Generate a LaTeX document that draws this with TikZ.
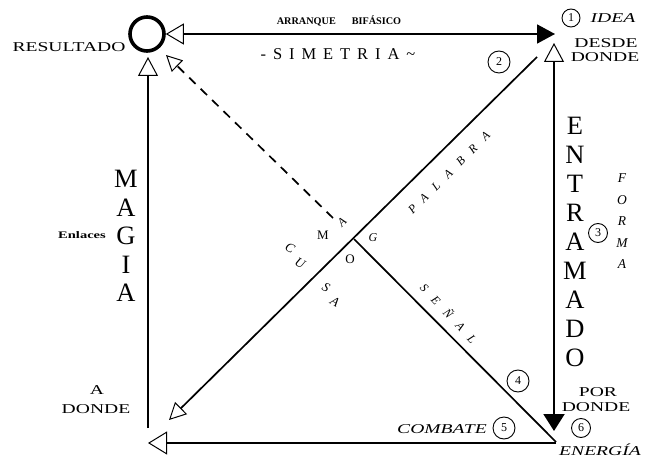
\documentclass[tikz,border=0pt]{standalone}
\usepackage{fontspec}
\setmainfont{Liberation Serif}
\newfontfamily\wideserif[FakeStretch=1.45]{Liberation Serif}
\newfontfamily\spacedserif[LetterSpace=42]{Liberation Serif}
\newfontfamily\diagserif[LetterSpace=85]{Liberation Serif}
\usetikzlibrary{arrows.meta}
\tikzset{
  OT/.tip={Triangle[open,length=19pt,width=20pt,line width=1pt]},
  FT/.tip={Triangle[length=18pt,width=19pt]},
  mainline/.style={line width=1.7pt},
  lbl/.style={font=\wideserif\fontsize{13.5}{14}\selectfont, inner sep=0pt},
  itlbl/.style={font=\wideserif\itshape\fontsize{13.5}{14}\selectfont, inner sep=0pt},
  bigletter/.style={font=\fontsize{26.5}{26}\selectfont, inner sep=0pt},
  smallit/.style={font=\itshape\fontsize{12}{12}\selectfont, inner sep=0pt},
  formait/.style={font=\itshape\fontsize{13.5}{13}\selectfont, inner sep=0pt},
  midletter/.style={font=\fontsize{13}{13}\selectfont, inner sep=0pt},
  num/.style={circle, draw, line width=0.9pt, minimum size=20pt, inner sep=0pt, font=\fontsize{12}{12}\selectfont},
}
\begin{document}
\begin{tikzpicture}[x=1pt,y=-1pt]
\useasboundingbox (0,0) rectangle (650,457);
% result circle
\node[circle, draw, line width=3.6pt, minimum size=34pt, inner sep=0pt] (res) at (147,34) {};
% coordinates
\coordinate (ideatip) at (555,34);
\coordinate (ltop) at (148,57);
\coordinate (lbot) at (148,428);
\coordinate (rtop) at (554,43);
\coordinate (rbot) at (554,431);
\coordinate (brstart) at (556,443);
\coordinate (bltip) at (148,443);
\coordinate (d1start) at (537,57);
\coordinate (d1tip) at (169,420);
\coordinate (cross) at (354,239);
\coordinate (d2end) at (556,442);
\coordinate (dstart) at (333,218);
\coordinate (dtip) at (166,55);
% connectors
\draw[mainline, {OT[length=18pt,width=21pt]}-{FT}] (res) -- (ideatip);
\draw[mainline, -{OT}] (lbot) -- (ltop);
\draw[mainline, line width=2pt, {OT}-{FT[length=17pt,width=21pt]}] (rtop) -- (rbot);
\draw[mainline, -{OT[length=19pt,width=23pt]}] (brstart) -- (bltip);
\draw[mainline, -{OT[length=17pt,width=17pt]}] (d1start) -- (d1tip);
\draw[mainline] (cross) -- (d2end);
\draw[mainline, dash pattern=on 9pt off 7pt, -{OT[length=16pt,width=16pt]}] (dstart) -- (dtip);
% top texts
\node[lbl] (resultado) at (69,47) {RESULTADO};
\node[inner sep=0pt, font=\bfseries\fontsize{10.2}{10}\selectfont] (arranque) at (339,21) {ARRANQUE\hspace{16pt}BIFÁSICO};
\node[inner sep=0pt, font=\spacedserif\fontsize{16.5}{16}\selectfont] (simetria) at (338,54) {-SIMETRIA\textasciitilde};
\node[num, minimum size=18pt] (n1) at (571,18) {1};
\node[itlbl] (idea) at (613,18) {IDEA};
\node[lbl] (desde) at (606,43) {DESDE};
\node[lbl] (donde1) at (605,57) {DONDE};
\node[num, minimum size=22pt] (n2) at (499,62) {2};
% ENTRAMADO
\foreach \l [count=\i] in {E,N,T,R,A,M,A,D,O}
  \node[bigletter] (ent\i) at (575,97+29*\i) {\l};
\node[num, minimum size=19pt] (n3) at (598,233) {3};
\foreach \l [count=\i] in {F,O,R,M,A}
  \node[formait] (forma\i) at (622,157+21.5*\i) {\l};
\node[lbl] (por) at (598,392) {POR};
\node[lbl] (donde2) at (596,407) {DONDE};
\node[num, minimum size=19pt] (n6) at (581,428) {6};
\node[itlbl, anchor=base] (energia) at (600,455) {ENERGÍA};
\node[num, minimum size=22pt] (n4) at (518,381) {4};
\node[num, minimum size=22pt] (n5) at (504,428) {5};
\node[itlbl] (combate) at (442,429) {COMBATE};
% MAGIA
\foreach \l [count=\i] in {M,A,G,I,A}
  \node[bigletter] (mag\i) at (126,150.5+28.5*\i) {\l};
\node[inner sep=0pt, font=\wideserif\bfseries\fontsize{10}{10}\selectfont] (enlaces) at (82,235) {Enlaces};
\node[lbl] (adondeA) at (97,390) {A};
\node[lbl] (adonde) at (96,409) {DONDE};
% diagonal texts
\node[inner sep=0pt, rotate=45, font=\diagserif\itshape\fontsize{12}{12}\selectfont] (palabra) at (449,173) {PALABRA};
\node[inner sep=0pt, rotate=-47, font=\diagserif\itshape\fontsize{12}{12}\selectfont] (senal) at (449,313) {SEÑAL};
% MAGO round the crossing
\node[midletter] (mgM) at (323,235) {M};
\node[smallit, rotate=45] (mgA) at (342,222) {A};
\node[smallit] (mgG) at (373,238) {G};
\node[midletter] (mgO) at (350,259) {O};
% CU / SA
\node[smallit, font=\itshape\fontsize{13}{13}\selectfont, rotate=-30] (cuC) at (290,248) {C};
\node[smallit, font=\itshape\fontsize{13}{13}\selectfont, rotate=-30] (cuU) at (300,263) {U};
\node[smallit, font=\itshape\fontsize{13}{13}\selectfont, rotate=-30] (saS) at (326,287) {S};
\node[smallit, font=\itshape\fontsize{13}{13}\selectfont, rotate=-30] (saA) at (335,302) {A};
\end{tikzpicture}
\end{document}
